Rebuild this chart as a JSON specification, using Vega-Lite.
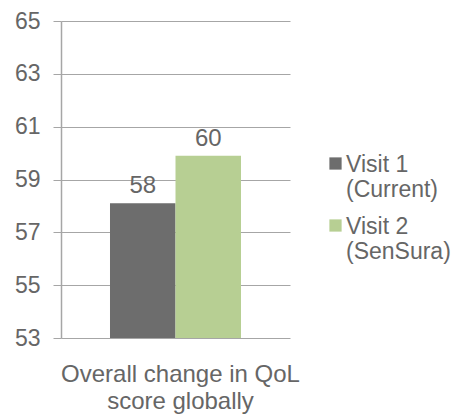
{
  "$schema": "https://vega.github.io/schema/vega-lite/v6.json",
  "width": 229,
  "height": 317,
  "autosize": "none",
  "padding": {"left": 61, "top": 21, "right": 171, "bottom": 76},
  "config": {
    "font": "Liberation Sans",
    "view": {"stroke": null},
    "axis": {"labelColor": "#666666", "labelFont": "Liberation Sans", "gridColor": "#a6a6a6", "domainColor": "#a6a6a6", "tickColor": "#a6a6a6"}
  },
  "data": {
    "values": [
      {"category": "Overall change in QoL score globally", "visit": "Visit 1 (Current)", "score": 58.1, "label": "58"},
      {"category": "Overall change in QoL score globally", "visit": "Visit 2 (SenSura)", "score": 59.9, "label": "60"}
    ]
  },
  "encoding": {
    "x": {
      "field": "category", "type": "nominal",
      "scale": {"paddingInner": 0, "paddingOuter": 0.374},
      "axis": {"title": null, "labelAngle": 0, "ticks": false, "domain": false, "labelFontSize": 24, "labelPadding": 24, "labelLineHeight": 27, "labelBaseline": "top", "labelLimit": 400, "labelOffset": 5,
        "labelExpr": "['Overall change in QoL', 'score globally']"}
    },
    "xOffset": {"field": "visit", "type": "nominal", "scale": {"paddingInner": 0, "paddingOuter": 0}},
    "y": {
      "field": "score", "type": "quantitative",
      "scale": {"domain": [53, 65], "nice": false, "zero": false, "clamp": true},
      "axis": {"title": null, "values": [53, 55, 57, 59, 61, 63, 65], "tickSize": 8, "labelFontSize": 23, "labelPadding": 13, "grid": true, "gridWidth": 1, "domainWidth": 1.5}
    },
    "color": {
      "field": "visit", "type": "nominal",
      "scale": {"range": ["#6d6d6d", "#b7cf93"]},
      "legend": {
        "title": null, "orient": "none", "legendX": 263, "legendY": 131,
        "symbolType": "square", "symbolSize": 150, "symbolStrokeWidth": 0,
        "labelFontSize": 23, "labelColor": "#666666", "labelOffset": -1, "labelBaseline": "alphabetic",
        "rowPadding": 12, "padding": 0,
        "labelExpr": "datum.label == 'Visit 1 (Current)' ? ['Visit 1', '(Current)'] : ['Visit 2', '(SenSura)']",
        "labelLimit": 200,
        "encode": {"labels": {"update": {"dy": {"value": 8}}}}
      }
    }
  },
  "layer": [
    {"mark": {"type": "bar"}, "encoding": {"y2": {"datum": 53}}},
    {
      "mark": {"type": "text", "baseline": "alphabetic", "dy": -10, "fontSize": 24, "color": "#666666"},
      "encoding": {"text": {"field": "label"}, "color": {"value": "#666666"}}
    }
  ]
}
